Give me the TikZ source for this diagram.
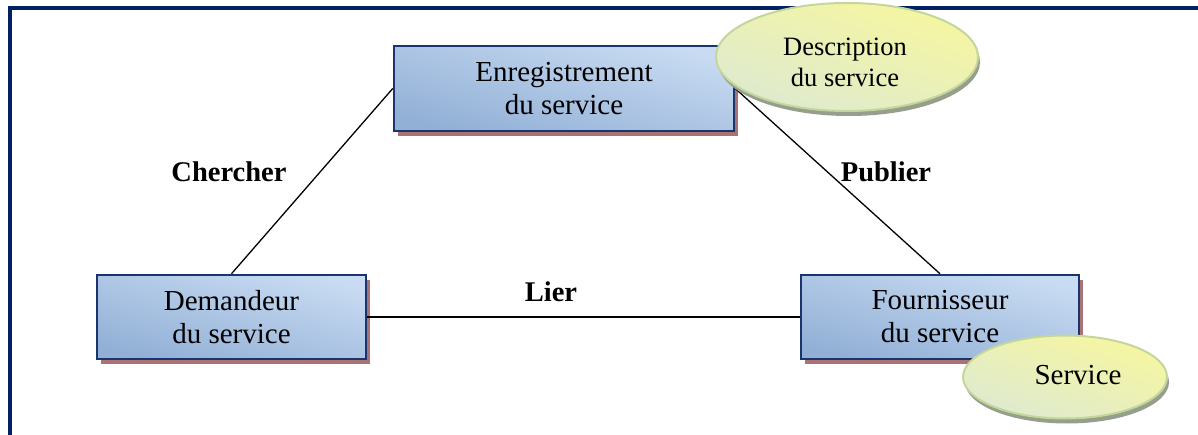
\documentclass[tikz,border=0pt]{standalone}
\usepackage{fontspec}
\setmainfont{Liberation Serif}
\usetikzlibrary{shapes.geometric,shadows}
\definecolor{frame}{RGB}{0,32,96}
\definecolor{boxborder}{RGB}{26,52,110}
\definecolor{boxlight}{RGB}{200,219,242}
\definecolor{boxdark}{RGB}{146,176,214}
\definecolor{boxshadow}{RGB}{170,115,115}
\definecolor{elltop}{RGB}{246,246,160}
\definecolor{ellbot}{RGB}{222,234,208}
\definecolor{ellborder}{RGB}{195,214,155}
\definecolor{ellshadow}{RGB}{150,158,140}
\tikzset{
  bigtext/.style={font=\fontsize{29}{33}\selectfont},
  smalltext/.style={font=\fontsize{26.5}{31}\selectfont},
  labeltext/.style={font=\fontsize{28.5}{33}\selectfont\bfseries},
  rolebox/.style={rectangle, draw=boxborder, line width=2.5pt, inner sep=0pt,
    top color=boxlight, bottom color=boxdark, shading angle=-15,
    drop shadow={shadow xshift=4pt, shadow yshift=-5pt, fill=boxshadow, opacity=1},
    align=center, bigtext},
  oval/.style={ellipse, draw=ellborder, line width=2pt, inner sep=0pt,
    top color=elltop, bottom color=ellbot, shading angle=-20,
    drop shadow={shadow xshift=2pt, shadow yshift=-5pt, fill=ellshadow, opacity=1}},
  link/.style={draw=black, line width=1.3pt}
}
\begin{document}
\begin{tikzpicture}[x=1pt,y=-1pt]
\useasboundingbox (0,0) rectangle (1198,435);
% outer frame
\coordinate (fbl) at (10,436);
\coordinate (ftl) at (10,8);
\coordinate (ftr) at (1199,8);
\draw[frame, line width=4pt] (fbl) -- (ftl) -- (ftr);
% boxes
\node[rolebox, minimum width=340pt, minimum height=85pt] (enr) at (564,88.5) {Enregistrement\\du service};
\node[rolebox, minimum width=269pt, minimum height=84pt] (dem) at (231.5,317) {Demandeur\\du service};
\node[rolebox, minimum width=278pt, minimum height=84pt] (fou) at (940,317) {Fournisseur\\du service};
% connectors
\draw[link] (dem.north) -- (enr.west);
\draw[link] (enr.east) -- (fou.north);
\draw[link] (dem.east) -- (fou.west);
% labels
\node[labeltext] (chercher) at (229,172) {Chercher};
\node[labeltext] (publier) at (886,172) {Publier};
\node[labeltext] (lier) at (551,292) {Lier};
% ellipses
\node[oval, minimum width=262pt, minimum height=108pt] (desc) at (847,57) {};
\node[smalltext, align=center] (desct) at (845,62) {Description\\du service};
\node[oval, minimum width=204pt, minimum height=83pt] (svc) at (1065,377) {};
\node[bigtext] (svct) at (1078,375) {Service};
\end{tikzpicture}
\end{document}
